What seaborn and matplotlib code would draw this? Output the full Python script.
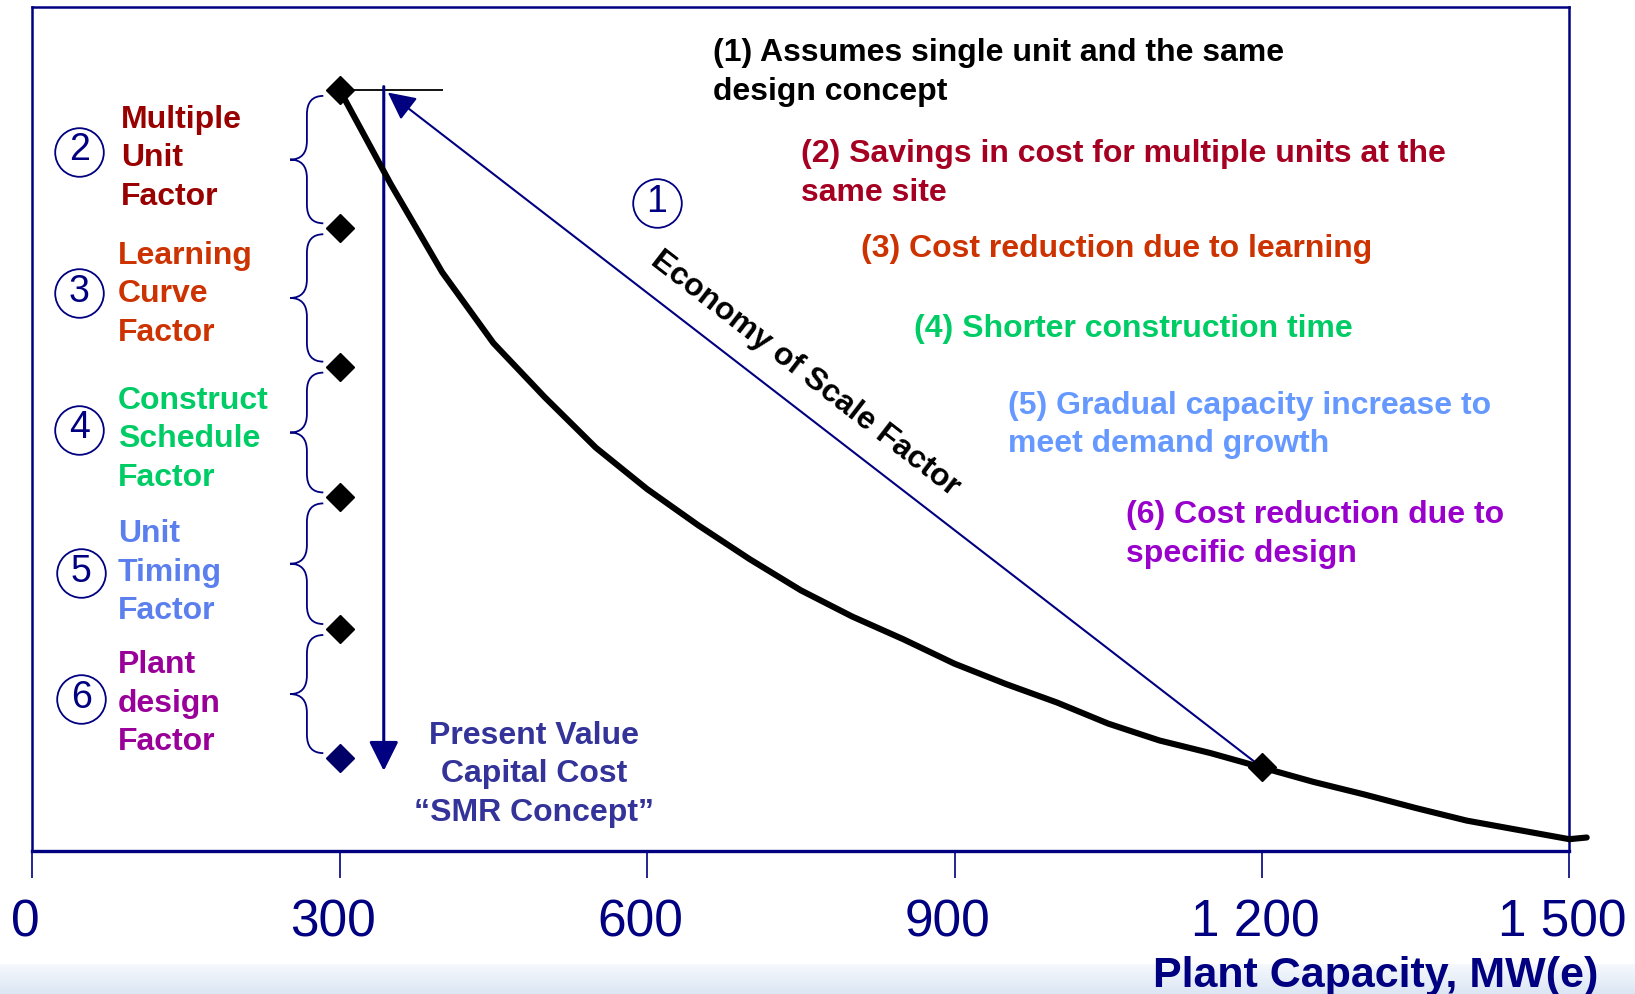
import numpy as np
import pandas as pd
import seaborn as sns
import matplotlib.pyplot as plt
from matplotlib.path import Path
import matplotlib.patches as mpatches
from matplotlib.transforms import ScaledTranslation

# ---- data (y in relative cost units 0-100) ----
capacity = [300, 350, 400, 450, 500, 550, 600, 650, 700, 750, 800, 850, 900,
            950, 1000, 1050, 1100, 1150, 1200, 1250, 1300, 1350, 1400, 1450,
            1500, 1517]
cost = [90.2, 79.0, 68.6, 60.2, 53.8, 47.8, 42.9, 38.6, 34.6, 30.9, 27.8, 25.1,
        22.2, 19.8, 17.6, 15.1, 13.1, 11.6, 9.9, 8.2, 6.7, 5.1, 3.6, 2.5, 1.4, 1.6]

factor_levels = [90.2, 73.8, 57.4, 41.9, 26.3, 11.0]   # diamonds at 300 MW
large_plant = (1200, 9.9)                              # diamond on the curve
smr_cost = 9.5

xticks = [0, 300, 600, 900, 1200, 1500]
xtick_labels = ['0', '300', '600', '900', '1 200', '1 500']

factor_names = [['Multiple', 'Unit', 'Factor'],
                ['Learning', 'Curve', 'Factor'],
                ['Construct', 'Schedule', 'Factor'],
                ['Unit', 'Timing', 'Factor'],
                ['Plant', 'design', 'Factor']]
factor_colors = ['#990000', '#CC3300', '#00CC66', '#5B80EE', '#990099']
factor_numbers = ['2', '3', '4', '5', '6']
label_mid = [82.2, 66.1, 48.9, 33.1, 17.6]
circle_mid = [82.9, 66.1, 49.9, 32.9, 18.0]

notes = [['(1) Assumes single unit and the same', 'design concept'],
         ['(2) Savings in cost for multiple units at the', 'same site'],
         ['(3) Cost reduction due to learning'],
         ['(4) Shorter construction time'],
         ['(5) Gradual capacity increase to', 'meet demand growth'],
         ['(6) Cost reduction due to', 'specific design']]
note_colors = ['black', '#A50021', '#CC3300', '#00CC66', '#6699FF', '#9900CC']
note_pos = [(664, 94.7), (750, 82.7), (809, 71.5), (860, 62.0), (952, 52.9), (1067, 39.9)]

navy = '#000080'
line_step = 4.57   # one text line in data units
fs = 23

sns.set_theme(style='white')
plt.rcParams['font.family'] = ['Liberation Sans', 'DejaVu Sans']

fig = plt.figure(figsize=(16.35, 9.95), dpi=100)
ax = fig.add_axes([32.3 / 1635, 1 - 852 / 995, 1537 / 1635, 843.7 / 995])

# cost curve
df = pd.DataFrame({'capacity': capacity, 'cost': cost})
sns.lineplot(data=df, x='capacity', y='cost', color='black', lw=4.4,
             ax=ax, clip_on=False, zorder=4)

ax.set_xlim(0, 1500)
ax.set_ylim(0, 100)

# diamonds
ax.plot([300] * 5, factor_levels[:5], 'D', color='black', ms=14, zorder=5)
ax.plot([300], factor_levels[5:], 'D', color='#000066', ms=14, zorder=5)
ax.plot([large_plant[0]], [large_plant[1]], 'D', color='black', ms=14, zorder=5)

# reference line at the top
ax.hlines(factor_levels[0], 300, 401, color='black', lw=1.3, zorder=3)

# economy of scale line with arrow
ax.annotate('', xy=(347, 89.9), xytext=large_plant,
            arrowprops=dict(arrowstyle='-|>', color=navy, lw=1.5,
                            mutation_scale=42, shrinkA=0, shrinkB=0), zorder=3)
# vertical arrow down to SMR cost
ax.annotate('', xy=(343, smr_cost), xytext=(343, 90.6),
            arrowprops=dict(arrowstyle='-|>', color=navy, lw=2.2,
                            mutation_scale=45, shrinkA=0, shrinkB=0), zorder=3)

# curly braces between diamonds
def brace(ax, y_top, y_bot, x_tip=251.5, x_sp=268, x_end=284, r=2.2):
    y_mid = (y_top + y_bot) / 2
    verts = [(x_end, y_top), (x_sp, y_top), (x_sp, y_top - r),
             (x_sp, y_mid + r), (x_sp, y_mid), (x_tip, y_mid),
             (x_sp, y_mid), (x_sp, y_mid - r),
             (x_sp, y_bot + r), (x_sp, y_bot), (x_end, y_bot)]
    codes = [Path.MOVETO, Path.CURVE3, Path.CURVE3,
             Path.LINETO, Path.CURVE3, Path.CURVE3,
             Path.CURVE3, Path.CURVE3,
             Path.LINETO, Path.CURVE3, Path.CURVE3]
    ax.add_patch(mpatches.PathPatch(Path(verts, codes), fc='none', ec=navy, lw=1.3))

for i in range(5):
    brace(ax, factor_levels[i] - 0.7, factor_levels[i + 1] + 0.6)

# factor labels and circled numbers
for i in range(5):
    x_lab = 86.5 if i == 0 else 83.4
    for j, word in enumerate(factor_names[i]):
        ax.text(x_lab, label_mid[i] + (1 - j) * line_step, word, color=factor_colors[i],
                fontsize=fs, fontweight='bold', ha='left', va='center')
    xc = 45.8 if i < 3 else 47.8
    ax.plot([xc], [circle_mid[i]], 'o', ms=35, mfc='white', mec=navy, mew=1.3, zorder=4)
    ax.text(xc, circle_mid[i] + 0.3, factor_numbers[i], color=navy, fontsize=27,
            ha='center', va='center', zorder=6)

# circled 1
ax.plot([609.6], [76.8], 'o', ms=35, mfc='white', mec=navy, mew=1.3, zorder=4)
ax.text(609.6, 77.1, '1', color=navy, fontsize=27, ha='center', va='center', zorder=6)

# notes on the right
for lines, col, (xn, yn) in zip(notes, note_colors, note_pos):
    for j, line in enumerate(lines):
        ax.text(xn, yn - j * line_step, line, color=col, fontsize=fs,
                fontweight='bold', ha='left', va='center')

# present value text
for j, line in enumerate(['Present Value', 'Capital Cost', '\u201cSMR Concept\u201d']):
    ax.text(489.5, 13.8 - j * line_step, line, color='#333399', fontsize=fs,
            fontweight='bold', ha='center', va='center')

# rotated economy of scale label
fig.canvas.draw()
p1 = ax.transData.transform((347, 89.9))
p2 = ax.transData.transform(large_plant)
angle = np.degrees(np.arctan2(p2[1] - p1[1], p2[0] - p1[0]))
ax.text(754, 56.7, 'Economy of Scale Factor', rotation=angle, rotation_mode='anchor',
        color='black', fontsize=fs, fontweight='bold', ha='center', va='center')

# axes styling
ax.set_xticks(xticks)
ax.set_xticklabels(xtick_labels)
ax.set_yticks([])
ax.set_xlabel('')
ax.set_ylabel('')
ax.tick_params(axis='x', direction='out', length=19.5, width=1.2, color=navy,
               labelcolor=navy, labelsize=37, pad=14, bottom=True)
for lab in ax.get_xticklabels():
    lab.set_transform(lab.get_transform() + ScaledTranslation(-0.07, 0, fig.dpi_scale_trans))
for side in ['left', 'right', 'top']:
    ax.spines[side].set_color(navy)
    ax.spines[side].set_linewidth(1.8)
ax.spines['bottom'].set_color(navy)
ax.spines['bottom'].set_linewidth(2.4)

# slide background band at the bottom
band = fig.add_axes([0, 0, 1, 30 / 995], zorder=-1)
grad = np.linspace(0, 1, 64).reshape(-1, 1)
band.imshow(grad, aspect='auto', cmap=sns.blend_palette(['#dbe6f4', '#f6f9fd'], as_cmap=True),
            extent=[0, 1, 0, 1], origin='lower')
band.axis('off')

fig.text(1598 / 1635, 1 - 976 / 995, 'Plant Capacity, MW(e)', color=navy,
         fontsize=31, fontweight='bold', ha='right', va='center')

fig.savefig('out.png', dpi=100, facecolor='white')
